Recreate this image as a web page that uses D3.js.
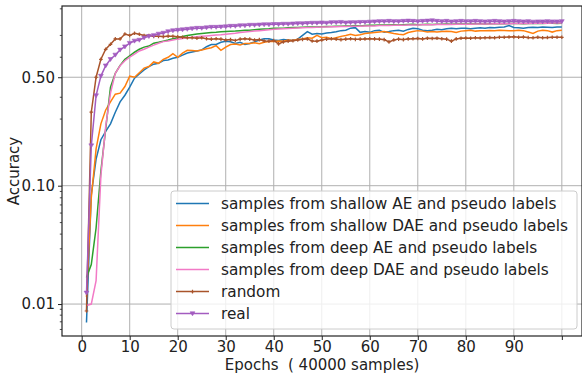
<!DOCTYPE html>
<html>
<head>
<meta charset="utf-8">
<script src="https://cdn.jsdelivr.net/npm/d3@7"></script>
<style>
  body { margin: 0; background: #fff; }
  svg { display: block; font-family: "DejaVu Sans", sans-serif; }
</style>
</head>
<body>
<div id="chart"></div>
<script>
// epochs 1..100, accuracy per epoch
const epochs = d3.range(1, 101);

const shallowAE = [
  0.0069, 0.085, 0.16, 0.22, 0.25, 0.28, 0.33, 0.378, 0.41, 0.45, 0.495, 0.517, 0.537, 0.554, 0.566, 0.57, 0.584, 0.587, 0.595, 0.60,
  0.61, 0.62, 0.625, 0.63, 0.635, 0.65, 0.66, 0.66, 0.67, 0.675, 0.672, 0.665, 0.67, 0.66, 0.665, 0.672, 0.68, 0.686, 0.686, 0.68,
  0.678, 0.682, 0.68, 0.678, 0.684, 0.70, 0.716, 0.705, 0.708, 0.706, 0.71, 0.712, 0.715, 0.72, 0.722, 0.73, 0.732, 0.713, 0.716, 0.713,
  0.72, 0.722, 0.713, 0.716, 0.72, 0.722, 0.718, 0.725, 0.73, 0.728, 0.722, 0.72, 0.722, 0.726, 0.724, 0.728, 0.73, 0.728, 0.73, 0.73,
  0.728, 0.73, 0.732, 0.73, 0.733, 0.732, 0.734, 0.735, 0.74, 0.733, 0.732, 0.73, 0.733, 0.734, 0.733, 0.735, 0.734, 0.733, 0.735, 0.735
];
const shallowDAE = [
  0.0115, 0.08, 0.19, 0.28, 0.34, 0.378, 0.415, 0.42, 0.453, 0.506, 0.50, 0.523, 0.546, 0.554, 0.577, 0.57, 0.59, 0.60, 0.617, 0.60,
  0.62, 0.633, 0.632, 0.63, 0.635, 0.64, 0.645, 0.655, 0.633, 0.648, 0.66, 0.662, 0.658, 0.665, 0.665, 0.668, 0.664, 0.67, 0.673, 0.674,
  0.676, 0.675, 0.68, 0.678, 0.683, 0.685, 0.69, 0.688, 0.70, 0.69, 0.692, 0.686, 0.69, 0.696, 0.70, 0.705, 0.70, 0.703, 0.708, 0.71,
  0.712, 0.714, 0.716, 0.712, 0.708, 0.705, 0.703, 0.712, 0.716, 0.72, 0.718, 0.714, 0.716, 0.714, 0.716, 0.717, 0.716, 0.712, 0.718, 0.72,
  0.722, 0.718, 0.72, 0.72, 0.721, 0.72, 0.722, 0.721, 0.72, 0.72, 0.722, 0.72, 0.714, 0.708, 0.718, 0.722, 0.72, 0.714, 0.72, 0.722
];
const deepAE = [
  0.017, 0.022, 0.045, 0.13, 0.26, 0.45, 0.52, 0.56, 0.59, 0.607, 0.624, 0.638, 0.648, 0.653, 0.666, 0.67, 0.675, 0.68, 0.686, 0.69,
  0.695, 0.70, 0.703, 0.706, 0.708, 0.71, 0.712, 0.713, 0.715, 0.716, 0.717, 0.718, 0.72, 0.722, 0.722, 0.724, 0.726, 0.727, 0.728, 0.73,
  0.73, 0.73, 0.732, 0.733, 0.733, 0.734, 0.735, 0.735, 0.735, 0.736, 0.737, 0.737, 0.738, 0.738, 0.739, 0.739, 0.74, 0.739, 0.74, 0.741,
  0.741, 0.742, 0.742, 0.742, 0.743, 0.742, 0.743, 0.744, 0.745, 0.743, 0.744, 0.745, 0.744, 0.745, 0.745, 0.746, 0.745, 0.746, 0.746, 0.746,
  0.746, 0.747, 0.747, 0.746, 0.747, 0.747, 0.748, 0.747, 0.748, 0.748, 0.748, 0.747, 0.748, 0.748, 0.749, 0.748, 0.749, 0.749, 0.748, 0.749
];
const deepDAE = [
  0.0097, 0.010, 0.016, 0.12, 0.27, 0.42, 0.52, 0.558, 0.583, 0.60, 0.615, 0.63, 0.638, 0.648, 0.657, 0.666, 0.673, 0.676, 0.68, 0.684,
  0.687, 0.69, 0.692, 0.694, 0.696, 0.698, 0.70, 0.702, 0.703, 0.705, 0.707, 0.709, 0.712, 0.714, 0.716, 0.718, 0.72, 0.722, 0.724, 0.726,
  0.727, 0.728, 0.729, 0.73, 0.731, 0.732, 0.733, 0.733, 0.734, 0.735, 0.735, 0.736, 0.736, 0.737, 0.737, 0.738, 0.738, 0.738, 0.739, 0.739,
  0.739, 0.74, 0.74, 0.74, 0.741, 0.741, 0.741, 0.742, 0.742, 0.742, 0.743, 0.743, 0.743, 0.744, 0.744, 0.744, 0.744, 0.745, 0.745, 0.745,
  0.745, 0.746, 0.746, 0.746, 0.746, 0.747, 0.747, 0.747, 0.747, 0.748, 0.748, 0.748, 0.748, 0.749, 0.749, 0.749, 0.749, 0.75, 0.75, 0.75
];
const random = [
  0.0087, 0.33, 0.50, 0.59, 0.638, 0.661, 0.685, 0.685, 0.706, 0.70, 0.709, 0.705, 0.70, 0.70, 0.696, 0.696, 0.695, 0.697, 0.696, 0.694,
  0.692, 0.69, 0.69, 0.688, 0.69, 0.686, 0.684, 0.686, 0.684, 0.68, 0.682, 0.678, 0.684, 0.686, 0.684, 0.68, 0.682, 0.676, 0.675, 0.678,
  0.663, 0.672, 0.675, 0.677, 0.68, 0.683, 0.685, 0.676, 0.675, 0.68, 0.684, 0.686, 0.684, 0.682, 0.684, 0.686, 0.683, 0.684, 0.685, 0.686,
  0.685, 0.684, 0.682, 0.672, 0.68, 0.684, 0.682, 0.685, 0.686, 0.687, 0.685, 0.688, 0.687, 0.688, 0.686, 0.684, 0.675, 0.685, 0.688, 0.689,
  0.688, 0.69, 0.689, 0.69, 0.691, 0.69, 0.692, 0.692, 0.693, 0.694, 0.692, 0.693, 0.691, 0.69, 0.692, 0.69, 0.691, 0.692, 0.692, 0.692
];
const real = [
  0.0125, 0.20, 0.408, 0.506, 0.558, 0.59, 0.611, 0.635, 0.65, 0.666, 0.676, 0.68, 0.69, 0.696, 0.70, 0.706, 0.71, 0.716, 0.72, 0.722,
  0.724, 0.726, 0.728, 0.73, 0.73, 0.732, 0.734, 0.734, 0.735, 0.736, 0.738, 0.738, 0.74, 0.74, 0.742, 0.742, 0.743, 0.744, 0.744, 0.745,
  0.745, 0.746, 0.746, 0.747, 0.748, 0.748, 0.749, 0.75, 0.75, 0.751, 0.75, 0.752, 0.752, 0.753, 0.751, 0.752, 0.752, 0.753, 0.753, 0.754,
  0.755, 0.756, 0.756, 0.757, 0.756, 0.756, 0.757, 0.758, 0.757, 0.756, 0.757, 0.758, 0.759, 0.757, 0.756, 0.757, 0.755, 0.756, 0.757, 0.756,
  0.756, 0.757, 0.756, 0.755, 0.756, 0.757, 0.756, 0.755, 0.756, 0.757, 0.756, 0.755, 0.756, 0.754, 0.755, 0.755, 0.756, 0.755, 0.755, 0.756
];

const seriesNames = [
  'samples from shallow AE and pseudo labels',
  'samples from shallow DAE and pseudo labels',
  'samples from deep AE and pseudo labels',
  'samples from deep DAE and pseudo labels',
  'random',
  'real'
];
const xTickValues = d3.range(0, 101, 10);
const yMajorTicks = [0.01, 0.1, 0.5];
const yMinorTicks = [0.006, 0.007, 0.008, 0.009, 0.02, 0.03, 0.04, 0.05, 0.06, 0.07, 0.08, 0.09, 0.2, 0.3, 0.4, 0.6, 0.7, 0.8];

const series = [
  { name: seriesNames[0], values: shallowAE, color: '#1f77b4', marker: null },
  { name: seriesNames[1], values: shallowDAE, color: '#ff7f0e', marker: null },
  { name: seriesNames[2], values: deepAE, color: '#2ca02c', marker: null },
  { name: seriesNames[3], values: deepDAE, color: '#f27ac6', marker: null },
  { name: seriesNames[4], values: random, color: '#a9542b', marker: 'plus' },
  { name: seriesNames[5], values: real, color: '#a35cc0', marker: 'tri' }
];

const W = 582, H = 375;
const margin = { top: 6, right: 0, bottom: 39, left: 62 };
const width = W - margin.left - margin.right;
const height = H - margin.top - margin.bottom;

const logit = p => Math.log(p / (1 - p));

const svg = d3.select('#chart').append('svg')
  .attr('width', W)
  .attr('height', H);

const g = svg.append('g')
  .attr('transform', 'translate(' + margin.left + ',' + margin.top + ')');

// scales (y is a logit scale: linear in log(p/(1-p)))
const xScale = d3.scaleLinear().domain([-4.1, 104.2]).range([0, width]);
const yLin = d3.scaleLinear().domain([logit(0.00526), logit(0.809)]).range([height, 0]);
const yScale = p => yLin(logit(p));

// grid
g.append('g').selectAll('line').data(xTickValues).join('line')
  .attr('x1', d => xScale(d)).attr('x2', d => xScale(d))
  .attr('y1', 0).attr('y2', height)
  .attr('stroke', '#b0b0b0').attr('stroke-width', 1);
g.append('g').selectAll('line').data(yMajorTicks).join('line')
  .attr('x1', 0).attr('x2', width)
  .attr('y1', d => yScale(d)).attr('y2', d => yScale(d))
  .attr('stroke', '#b0b0b0').attr('stroke-width', 1);

// lines
const line = d3.line()
  .x((d, i) => xScale(epochs[i]))
  .y(d => yScale(d));

series.forEach(s => {
  g.append('path')
    .datum(s.values)
    .attr('fill', 'none')
    .attr('stroke', s.color)
    .attr('stroke-width', 1.5)
    .attr('d', line);
});

function drawMarker(sel, type, color) {
  if (type === 'plus') {
    sel.append('path')
      .attr('d', 'M-1.8,0H1.8M0,-1.8V1.8')
      .attr('stroke', color).attr('stroke-width', 1.2).attr('fill', 'none');
  } else if (type === 'tri') {
    sel.append('path')
      .attr('d', 'M-2.4,-1.8L2.4,-1.8L0,2.2Z')
      .attr('fill', color).attr('stroke', color).attr('stroke-width', 0.6);
  }
}

series.filter(s => s.marker).forEach(s => {
  s.values.forEach((v, i) => {
    const m = g.append('g')
      .attr('transform', 'translate(' + xScale(epochs[i]) + ',' + yScale(v) + ')');
    drawMarker(m, s.marker, s.color);
  });
});

// axes
const xAxis = d3.axisBottom(xScale)
  .tickValues(xTickValues)
  .tickSize(4)
  .tickPadding(1.5)
  .tickFormat(d => d === 100 ? '' : d);
const xg = g.append('g')
  .attr('transform', 'translate(0,' + height + ')')
  .call(xAxis);

const yAxis = d3.axisLeft(yLin)
  .tickValues(yMajorTicks.map(logit))
  .tickSize(4)
  .tickPadding(3)
  .tickFormat(d => (1 / (1 + Math.exp(-d))).toFixed(2));
const yg = g.append('g').call(yAxis);

g.append('g').selectAll('line').data(yMinorTicks).join('line')
  .attr('x1', -2.2).attr('x2', 0)
  .attr('y1', d => yScale(d)).attr('y2', d => yScale(d))
  .attr('stroke', '#222').attr('stroke-width', 0.8);

[xg, yg].forEach(ax => {
  ax.select('.domain').remove();
  ax.selectAll('.tick line').attr('stroke', '#222').attr('stroke-width', 1);
  ax.selectAll('.tick text')
    .attr('fill', '#222')
    .style('font-size', '15px')
    .style('font-family', '"DejaVu Sans", sans-serif');
});

// frame
g.append('rect')
  .attr('x', 0).attr('y', 0)
  .attr('width', width).attr('height', height)
  .attr('fill', 'none')
  .attr('stroke', '#222')
  .attr('stroke-width', 1.2);

// axis labels
svg.append('text')
  .attr('x', margin.left + width / 2)
  .attr('y', 370)
  .attr('text-anchor', 'middle')
  .attr('fill', '#222')
  .style('font-size', '15px')
  .style('white-space', 'pre')
  .text('Epochs  ( 40000 samples)');

svg.append('text')
  .attr('transform', 'rotate(-90)')
  .attr('x', -(margin.top + height / 2))
  .attr('y', 19)
  .attr('text-anchor', 'middle')
  .attr('fill', '#222')
  .style('font-size', '15px')
  .text('Accuracy');

// legend
const legend = svg.append('g').attr('transform', 'translate(171,191)');
legend.append('rect')
  .attr('width', 406).attr('height', 138)
  .attr('rx', 3)
  .attr('fill', 'rgba(255,255,255,0.8)')
  .attr('stroke', '#cccccc')
  .attr('stroke-width', 1);

series.forEach((s, i) => {
  const row = legend.append('g').attr('transform', 'translate(0,' + (12.6 + i * 22) + ')');
  row.append('line')
    .attr('x1', 5).attr('x2', 38)
    .attr('stroke', s.color).attr('stroke-width', 1.5);
  if (s.marker) {
    const m = row.append('g').attr('transform', 'translate(21.5,0)');
    drawMarker(m, s.marker, s.color);
  }
  row.append('text')
    .attr('x', 50).attr('y', 5.5)
    .attr('fill', '#222')
    .style('font-size', '15.3px')
    .text(s.name);
});
</script>
</body>
</html>
